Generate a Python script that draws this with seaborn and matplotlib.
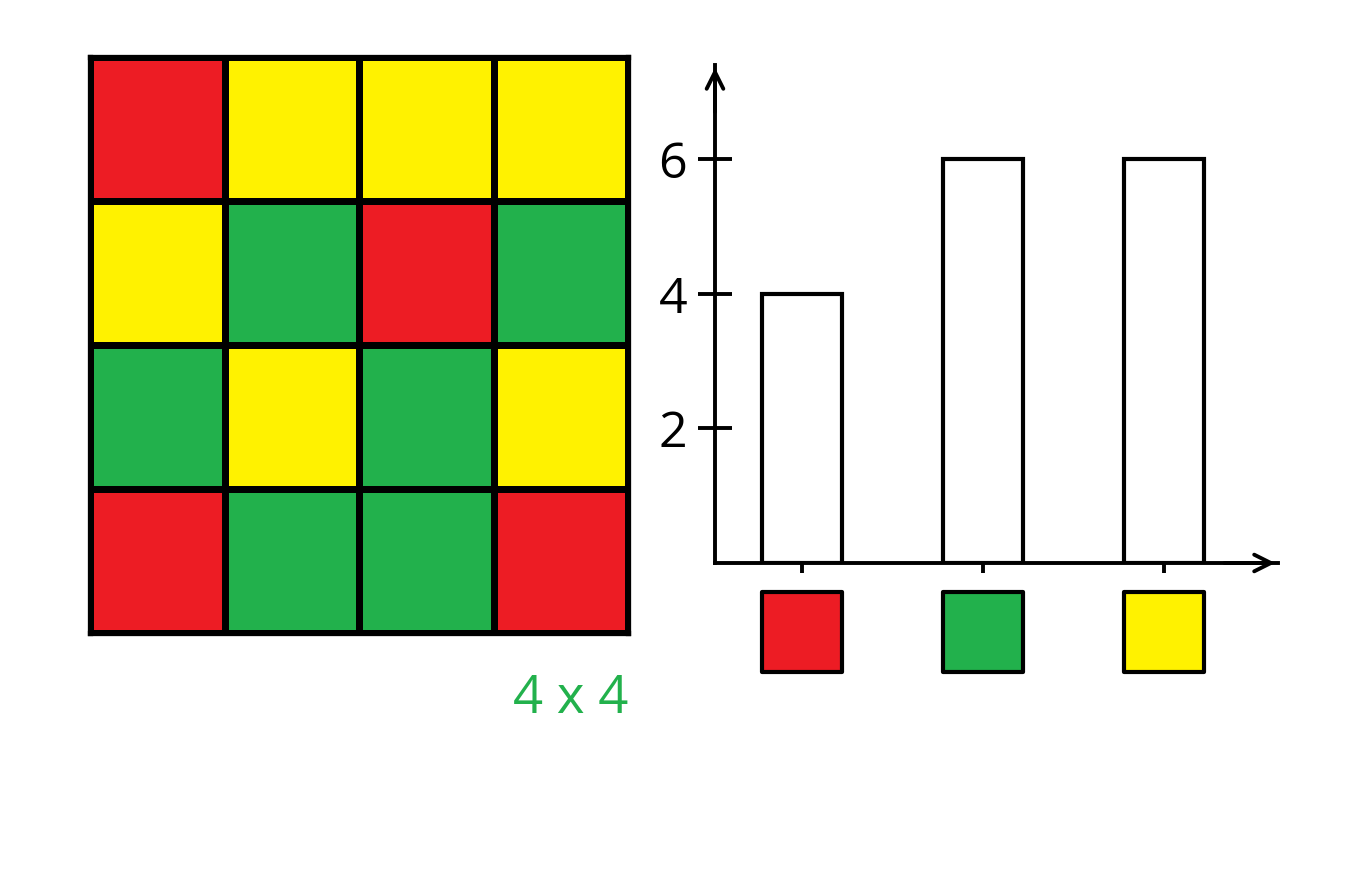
import matplotlib
matplotlib.use('Agg')
import matplotlib.pyplot as plt
from matplotlib.colors import ListedColormap
import matplotlib.transforms as mtransforms
import numpy as np
import pandas as pd
import seaborn as sns

# data: 4x4 grid of colour codes (0 red, 1 green, 2 yellow) and counts
color_names = ['red', 'green', 'yellow']
color_hex = ['#ED1C24', '#22B14C', '#FFF200']
grid = [[0, 2, 2, 2],
        [2, 1, 0, 1],
        [1, 2, 1, 2],
        [0, 1, 1, 0]]
counts = [4, 6, 6]
y_ticks = [2, 4, 6]

sns.set_theme(style='white')
plt.rcParams['font.family'] = ['Open Sans', 'DejaVu Sans']

fig = plt.figure(figsize=(13.72, 8.76), dpi=100)

# left: the coloured grid
ax1 = fig.add_axes([90/1372, 1 - 633/876, 538/1372, 576/876])
sns.heatmap(pd.DataFrame(grid), cmap=ListedColormap(color_hex), vmin=-0.5, vmax=2.5,
            cbar=False, linewidths=3.8, linecolor='black', square=False,
            xticklabels=False, yticklabels=False, ax=ax1)
for s in ax1.spines.values():
    s.set_visible(True)
    s.set_color('black')
    s.set_linewidth(3.8)

fig.text(628/1372, 1 - 699/876, '4 x 4', color='#22B14C', fontsize=38,
         ha='right', va='center')

# right: bar chart of counts
ax2 = fig.add_axes([715/1372, 1 - 563/876, 563/1372, 498/876])
df = pd.DataFrame({'color': color_names, 'count': counts})
sns.barplot(data=df, x='color', y='count', color='white', edgecolor='black',
            linewidth=3, width=0.44, ax=ax2)
ax2.set_xlim(-0.48, 2.63)
ax2.set_ylim(0, 7.4)
ax2.set_xlabel('')
ax2.set_ylabel('')
ax2.set_yticks(y_ticks)
ax2.set_yticklabels([str(t) for t in y_ticks], fontsize=36, color='black')
ax2.set_xticks(range(len(color_names)))
ax2.set_xticklabels([])
ax2.tick_params(axis='y', direction='inout', length=24, width=2.8, color='black', pad=8, left=True)
ax2.tick_params(axis='x', direction='inout', length=14, width=2.8, color='black', bottom=True)
for name in ['top', 'right']:
    ax2.spines[name].set_visible(False)
for name in ['left', 'bottom']:
    ax2.spines[name].set_color('black')
    ax2.spines[name].set_linewidth(2.8)

# axis arrows
ax2.annotate('', xy=(0, 1.0), xytext=(0, 0.9), xycoords='axes fraction',
             arrowprops=dict(arrowstyle='->', lw=2.8, color='black', mutation_scale=30))
ax2.annotate('', xy=(1.0, 0), xytext=(0.9, 0), xycoords='axes fraction',
             arrowprops=dict(arrowstyle='->', lw=2.8, color='black', mutation_scale=30))

# coloured squares as category labels
trans = mtransforms.blended_transform_factory(ax2.transData, ax2.transAxes)
ax2.scatter(range(len(color_names)), [-0.139] * len(color_names), marker='s', s=3300,
            c=color_hex, edgecolors='black', linewidths=3, transform=trans, clip_on=False)

fig.savefig('out.png', dpi=100)
